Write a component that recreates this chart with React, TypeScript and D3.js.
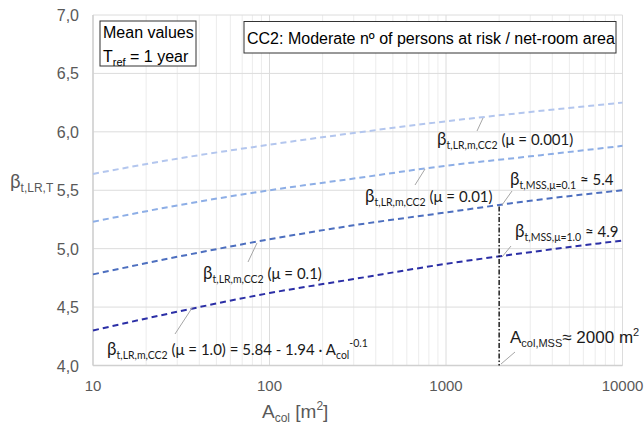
import React from "react";
import * as d3 from "d3";

const areas = [10, 30, 100, 300, 1000, 3000, 10000];
const betaMu0001 = [5.64, 5.77, 5.89, 5.99, 6.09, 6.17, 6.25];
const betaMu001 = [5.23, 5.37, 5.5, 5.6, 5.71, 5.79, 5.88];
const betaMu01 = [4.78, 4.93, 5.08, 5.2, 5.31, 5.41, 5.5];
const betaMu1 = [4.3, 4.46, 4.62, 4.74, 4.87, 4.97, 5.07];
const seriesNames = ["0.001", "0.01", "0.1", "1.0"];
const seriesColors = ["#b3c6ee", "#8daee6", "#4d6fbf", "#2b2fa6"];
const mssArea = 2000;
const mssBetaMu01 = 5.36;
const mssBetaMu1 = 4.93;
const xTicks = [10, 100, 1000, 10000];
const xTickLabels = ["10", "100", "1000", "10000"];
const yTicks = [4.0, 4.5, 5.0, 5.5, 6.0, 6.5, 7.0];
const yTickLabels = ["4,0", "4,5", "5,0", "5,5", "6,0", "6,5", "7,0"];

const W = 644;
const H = 425;
const L = 93, R = 622.5, T = 15, B = 365.5;

const labelFont = "Lato, 'Open Sans', sans-serif";
const axisFont = "'Liberation Sans', Arial, sans-serif";

function BetaLabel({ x, y, sub, rest }: { x: number; y: number; sub: string; rest: React.ReactNode }) {
  return (
    <text x={x} y={y} fontFamily={labelFont} fontSize={15} fill="#1a1a1a">
      <tspan fontSize={17}>β</tspan>
      <tspan fontSize={10.5} dy={4}>{sub}</tspan>
      <tspan dy={-4}>{rest}</tspan>
    </text>
  );
}

export default function App() {
  const x = d3.scaleLog().domain([10, 10000]).range([L, R]);
  const y = d3.scaleLinear().domain([4, 7]).range([B, T]);
  const series = [betaMu0001, betaMu001, betaMu01, betaMu1];
  const line = d3
    .line<number>()
    .x((_, i) => x(areas[i]))
    .y((d) => y(d))
    .curve(d3.curveMonotoneX);

  const minor: number[] = [];
  [10, 100, 1000].forEach((dec) => {
    for (let k = 2; k <= 9; k++) minor.push(dec * k);
  });

  const mx = x(mssArea);

  return (
    <svg width={W} height={H} style={{ position: "absolute", left: 0, top: 0, background: "#fff" }}>
      {minor.map((m) => (
        <line key={"mn" + m} x1={x(m)} x2={x(m)} y1={T} y2={B} stroke="#ececec" strokeWidth={1} />
      ))}
      {xTicks.map((t) => (
        <line key={"mj" + t} x1={x(t)} x2={x(t)} y1={T} y2={B} stroke="#dcdcdc" strokeWidth={1} />
      ))}
      {yTicks.map((t) => (
        <line key={"h" + t} x1={L} x2={R} y1={y(t)} y2={y(t)} stroke="#dcdcdc" strokeWidth={1} />
      ))}
      <line x1={L} x2={L} y1={T} y2={B} stroke="#d0d0d0" strokeWidth={1.5} />
      <line x1={L} x2={R} y1={B} y2={B} stroke="#d0d0d0" strokeWidth={1.5} />

      {yTicks.map((t, i) => (
        <text key={"yl" + t} x={79} y={y(t) + 6} textAnchor="end" fontFamily={axisFont} fontSize={16} fill="#595959">
          {yTickLabels[i]}
        </text>
      ))}
      {xTicks.map((t, i) => (
        <text key={"xl" + t} x={x(t)} y={391} textAnchor="middle" fontFamily={axisFont} fontSize={15} fill="#595959">
          {xTickLabels[i]}
        </text>
      ))}

      <text x={262} y={418} fontFamily={axisFont} fontSize={19} fill="#595959">
        <tspan>A</tspan>
        <tspan fontSize={12} dy={4}>col</tspan>
        <tspan dy={-4}> [m</tspan>
        <tspan fontSize={12} dy={-8}>2</tspan>
        <tspan dy={8}>]</tspan>
      </text>
      <text x={10} y={188} fontFamily={labelFont} fontSize={19} fill="#595959">
        <tspan>β</tspan>
        <tspan fontFamily={axisFont} fontSize={12} dy={4}>t,LR,T</tspan>
      </text>

      {series.map((s, i) => (
        <path
          key={"s" + i}
          d={line(s) || ""}
          fill="none"
          stroke={seriesColors[i]}
          strokeWidth={2}
          strokeDasharray="6,4"
          data-name={seriesNames[i]}
        />
      ))}

      <line x1={mx} x2={mx} y1={y(mssBetaMu01)} y2={B} stroke="#000" strokeWidth={1.3} strokeDasharray="5,2,1.5,2" />
      <circle cx={mx} cy={y(mssBetaMu1)} r={0} />

      <g stroke="#a6a6a6" strokeWidth={1}>
        <line x1={477} y1={131} x2={483} y2={118} />
        <line x1={415} y1={185} x2={425} y2={169} />
        <line x1={248} y1={262} x2={257} y2={243} />
        <line x1={175} y1={334} x2={192} y2={308} />
        <line x1={502} y1={205} x2={512} y2={191} />
        <line x1={502} y1={257} x2={511} y2={246} />
        <line x1={501} y1={364} x2={515} y2={352} />
      </g>

      <BetaLabel x={437} y={145} sub="t,LR,m,CC2" rest=" (μ = 0.001)" />
      <BetaLabel x={365} y={202} sub="t,LR,m,CC2" rest=" (μ = 0.01)" />
      <BetaLabel x={203} y={279} sub="t,LR,m,CC2" rest=" (μ = 0.1)" />
      <text x={107} y={355} fontFamily={labelFont} fontSize={15} fill="#1a1a1a">
        <tspan fontSize={17}>β</tspan>
        <tspan fontSize={10.5} dy={4}>t,LR,m,CC2</tspan>
        <tspan dy={-4}> (μ = 1.0) = 5.84 - 1.94 · A</tspan>
        <tspan fontSize={10.5} dy={4}>col</tspan>
        <tspan fontSize={10.5} dy={-12}>-0.1</tspan>
      </text>
      <BetaLabel x={510} y={185} sub="t,MSS,μ=0.1" rest="  ≈ 5.4" />
      <BetaLabel x={515} y={237} sub="t,MSS,μ=1.0" rest="  ≈ 4.9" />
      <text x={510} y={343} fontFamily={axisFont} fontSize={17} fill="#1a1a1a">
        <tspan>A</tspan>
        <tspan fontSize={11} dy={4}>col,MSS</tspan>
        <tspan dy={-4}>≈ 2000 m</tspan>
        <tspan fontSize={11} dy={-7}>2</tspan>
      </text>

      <rect x={100} y={21} width={96} height={45} fill="#fff" stroke="#333" strokeWidth={1} />
      <text x={103} y={38} fontFamily={axisFont} fontSize={16} fill="#000">Mean values</text>
      <text x={103} y={62} fontFamily={axisFont} fontSize={16} fill="#000">
        <tspan>T</tspan>
        <tspan fontSize={11} dy={4}>ref</tspan>
        <tspan dy={-4}> = 1 year</tspan>
      </text>
      <rect x={244} y={21.5} width={372} height={31.5} fill="#fff" stroke="#333" strokeWidth={1} />
      <text x={247} y={44} fontFamily={axisFont} fontSize={16} fill="#000">
        CC2: Moderate nº of persons at risk / net-room area
      </text>
    </svg>
  );
}
